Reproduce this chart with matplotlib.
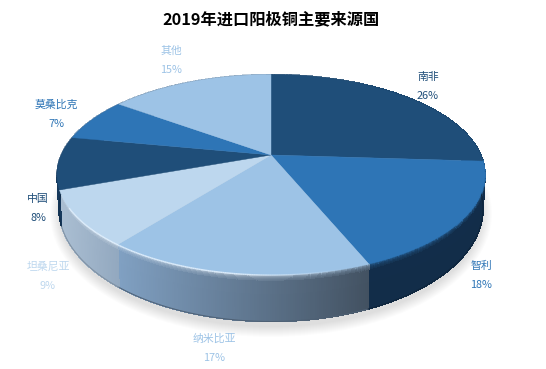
import numpy as np
import matplotlib
matplotlib.use("Agg")
import matplotlib.pyplot as plt
from matplotlib.colors import to_rgb
from matplotlib.collections import PolyCollection
from matplotlib.patches import Ellipse

plt.rcParams['font.family'] = ['Noto Sans CJK SC', 'DejaVu Sans']

# data
title = "2019年进口阳极铜主要来源国"
categories = ["南非", "智利", "纳米比亚", "坦桑尼亚", "中国", "莫桑比克", "其他"]
values = [26, 18, 17, 9, 8, 7, 15]

# styles
top_colors = ["#1F4E79", "#2E75B6", "#9DC3E6", "#BDD7EE", "#1F4E79", "#2E75B6", "#9DC3E6"]
wall_left = ["#122D49", "#122D49", "#80A0C2", "#AABED2", "#17395C", "#17395C", "#122D49"]
wall_right = ["#122D49", "#122D49", "#425161", "#92A8BF", "#17395C", "#17395C", "#122D49"]
label_pos = [(428, 77), (481, 266), (214, 339), (48, 267), (38, 199), (56, 105), (171, 51)]

fig = plt.figure(figsize=(5.46, 3.69), dpi=100)
ax = fig.add_axes([0, 0, 1, 1])
ax.set_xlim(0, 546)
ax.set_ylim(369, 0)
ax.axis("off")

# perspective disc: apex and top-face ellipse
AX, AY = 271, 155
CY, RX, RY = 175, 214, 100.5
K = 0.197
A, B = 96.4, RX * np.sqrt(1 - K ** 2)
BCY, BRX, BRY = 209, 212, 113
# small angular correction of the projection on the front-left of the disc
WARP_AT = [0, 94, 158, 220, 252, 281, 360]
WARP_BY = [0, 0, -0.8, -1.4, -1.8, 0, 0]


def top_point(deg):
    t = np.radians(deg + np.interp(deg, WARP_AT, WARP_BY))
    u, v = np.sin(t), np.cos(t)
    d = 1 + K * v
    return AX + B * u / d, AY - A * v / d


def bottom_from_top(x, y):
    c = (x - AX) / RX
    s = (y - CY) / RY
    return AX + BRX * c, BCY + BRY * s


# soft shadow
for i in range(11):
    ax.add_patch(Ellipse((AX, BCY + 5), 2 * (BRX + 9 - i), 2 * (BRY + 10 - i),
                         fc="#000000", ec="none", alpha=0.012, zorder=1))

edges = np.concatenate([[0], np.cumsum(values)]) / sum(values) * 360.0

# walls
polys, cols = [], []
rows = np.concatenate([np.linspace(0, 0.14, 8), np.linspace(0.14, 1, 4)[1:]])
for i in range(len(values)):
    a0, a1 = edges[i], edges[i + 1]
    xs0, _ = top_point(a0)
    xs1, _ = top_point(a1)
    lo, hi = min(xs0, xs1), max(xs0, xs1)
    cl, cr = np.array(to_rgb(wall_left[i])), np.array(to_rgb(wall_right[i]))
    top_rgb = np.array(to_rgb(top_colors[i]))
    angles = np.arange(a0, a1 + 0.01, 0.5)
    angles[-1] = a1
    for p, q in zip(angles[:-1], angles[1:]):
        x0, y0 = top_point(p)
        x1, y1 = top_point(q)
        bx0, by0 = bottom_from_top(x0, y0)
        bx1, by1 = bottom_from_top(x1, y1)
        mid = 0.5 * (x0 + x1)
        frac = np.clip((mid - lo) / max(hi - lo, 1), 0, 1)
        base = cl + (cr - cl) * frac
        hl = np.clip((375 - mid) / 130, 0, 1) * 0.75
        rim = top_rgb + (1 - top_rgb) * hl
        for f0, f1 in zip(rows[:-1], rows[1:]):
            w = np.exp(-0.5 * (f0 + f1) / 0.055)
            col = base + (rim - base) * w
            polys.append([(x0 + (bx0 - x0) * f0, y0 + (by0 - y0) * f0),
                          (x1 + (bx1 - x1) * f0, y1 + (by1 - y1) * f0),
                          (x1 + (bx1 - x1) * f1, y1 + (by1 - y1) * f1),
                          (x0 + (bx0 - x0) * f1, y0 + (by0 - y0) * f1)])
            cols.append(col)
ax.add_collection(PolyCollection(polys, facecolors=cols, edgecolors=cols, linewidths=0.5,
                                 antialiased=False, zorder=2))
# smooth lower outline of the wall
for i in range(len(values)):
    ang = np.linspace(edges[i], edges[i + 1], 120)
    tx, ty = top_point(ang)
    bx, by = bottom_from_top(tx, ty)
    cl, cr = np.array(to_rgb(wall_left[i])), np.array(to_rgb(wall_right[i]))
    ax.plot(bx, by, color=tuple((cl + cr) / 2 * 0.8), lw=0.7, zorder=2.1)

# top face
for i in range(len(values)):
    ang = np.linspace(edges[i], edges[i + 1], 200)
    px, py = top_point(ang)
    ax.fill(np.r_[AX, px], np.r_[AY, py], fc=top_colors[i], ec=top_colors[i], lw=0.3, zorder=3)

# bright rim on the lit front-left edge
ang = np.arange(edges[2], edges[4] - 10, 0.5)
rx_, ry_ = top_point(ang)
for p0, p1, xa, ya, xb, yb in zip(ang[:-1], ang[1:], rx_[:-1], ry_[:-1], rx_[1:], ry_[1:]):
    ax.plot([xa, xb], [ya, yb], color="#E4F2FF", lw=1.0,
            alpha=float(np.clip((345 - 0.5 * (xa + xb)) / 130, 0, 0.85)),
            solid_capstyle="butt", zorder=3.1)

# labels
for name, val, col, (lx, ly) in zip(categories, values, top_colors, label_pos):
    ax.text(lx, ly, name, color=col, fontsize=7.8, ha="center", va="center", zorder=5)
    ax.text(lx, ly + 19, f"{val}%", color=col, fontsize=7.8, ha="center", va="center", zorder=5)

ax.text(271, 19, title, color="black", fontsize=11.7, fontweight="bold",
        ha="center", va="center", zorder=5)

fig.savefig("out.png", dpi=100)
